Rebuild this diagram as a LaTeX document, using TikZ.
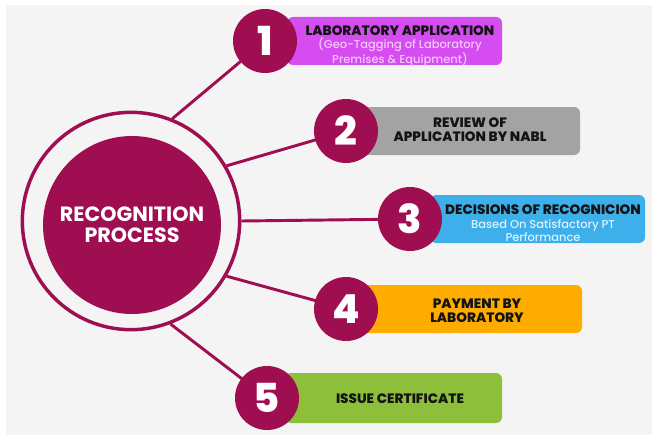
\documentclass[tikz,border=0pt]{standalone}
\usepackage{fontspec}
\setmainfont{Poppins}
\newfontfamily\heavy{Poppins ExtraBold}
\newfontfamily\medium{Poppins Medium}
\definecolor{maroon}{RGB}{160,14,82}
\definecolor{bgc}{RGB}{244,244,244}
\definecolor{barA}{RGB}{213,76,240}
\definecolor{barB}{RGB}{163,163,163}
\definecolor{barC}{RGB}{61,176,236}
\definecolor{barD}{RGB}{255,172,0}
\definecolor{barE}{RGB}{141,191,58}
\definecolor{subA}{RGB}{246,200,252}
\definecolor{subC}{RGB}{220,242,255}
\definecolor{titlec}{RGB}{20,20,20}
\begin{document}
\begin{tikzpicture}[x=0.75pt,y=-0.75pt,
  bar/.style={rounded corners=4.5pt, minimum height=36pt, inner sep=0pt},
  num/.style={circle, fill=maroon, minimum size=48pt, inner sep=0pt, text=white, font=\heavy\fontsize{30}{30}\selectfont},
  conn/.style={draw=maroon, line width=2.2pt},
  ttl/.style={font=\heavy\fontsize{10.2}{10.5}\selectfont, text=titlec, align=center, inner sep=0pt},
  subt/.style={font=\medium\fontsize{8.6}{10.3}\selectfont, align=center, inner sep=0pt}]
\useasboundingbox (0,0) rectangle (652,435);
\fill[white] (0,0) rectangle (652,435);
\fill[bgc] (6,5) rectangle (652,435);
% bars
\node[bar, fill=barA, minimum width=161.25pt] (b1) at (394.5,41) {};
\node[bar, fill=barB, minimum width=165pt] (b2) at (470,131) {};
\node[bar, fill=barC, minimum width=161.25pt] (b3) at (537.5,219) {};
\node[bar, fill=barD, minimum width=166.5pt] (b4) at (471,309) {};
\node[bar, fill=barE, minimum width=162.75pt, minimum height=37.5pt] (b5) at (393.5,398) {};
% bar texts
\node[ttl] (t1) at (400,31) {LABORATORY APPLICATION};
\node[subt, text=subA] (s1) at (400,52.5) {(Geo-Tagging of Laboratory\\Premises \& Equipment)};
\node[ttl] (t2) at (470,130) {REVIEW OF\\APPLICATION BY NABL};
\node[ttl] (t3) at (543,210) {DECISIONS OF RECOGNICION};
\node[subt, text=subC] (s3) at (543,230.5) {Based On Satisfactory PT\\Performance};
\node[ttl] (t4) at (477,311) {PAYMENT BY\\LABORATORY};
\node[ttl] (t5) at (400,399) {ISSUE CERTIFICATE};
% central circle
\node[circle, draw=maroon, line width=2.6pt, minimum size=163pt, inner sep=0pt] (ring) at (131,221) {};
\node[circle, fill=maroon, minimum size=133.5pt, inner sep=0pt, text=white, align=center,
      font=\bfseries\fontsize{15.5}{15.5}\selectfont] (core) at (132,225) {RECOGNITION\\PROCESS};
% connectors
\coordinate (c1) at (265,41);
\coordinate (c2) at (346,131);
\coordinate (c3) at (410,219);
\coordinate (c4) at (346,309);
\coordinate (c5) at (267,398);
\draw[conn] (ring.68) -- (c1);
\draw[conn] (ring.30) -- (c2);
\draw[conn] (ring.0) -- (c3);
\draw[conn] (ring.-30) -- (c4);
\draw[conn] (ring.-69) -- (c5);
% number circles
\node[num] (n1) at (c1) {1};
\node[num] (n2) at (c2) {2};
\node[num] (n3) at (c3) {3};
\node[num] (n4) at (c4) {4};
\node[num] (n5) at (c5) {5};
\end{tikzpicture}
\end{document}
